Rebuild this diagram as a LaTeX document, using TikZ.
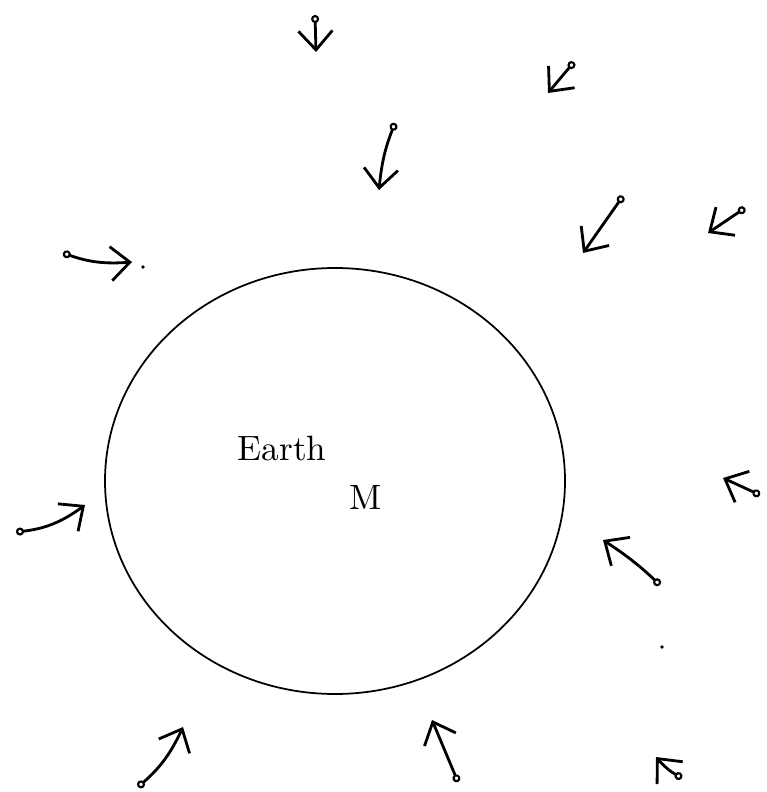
\documentclass[tikz,border=0pt]{standalone}
\usetikzlibrary{arrows.meta}

\begin{document}
\begin{tikzpicture}[x=0.01cm,y=-0.01cm,
  pull/.style={line width=0.8pt,
    {Circle[open,length=0.8mm,width=0.8mm,line width=0.6pt]}-{Straight Barb[length=1.9mm,width=3.4mm,line width=0.8pt]}}]
  \def\rx{230}
  \def\ry{213}
  \useasboundingbox (0,0) rectangle (766,792);

  % the earth
  \coordinate (centre) at (335,481);
  \draw[line width=0.5pt] (centre) ellipse ({\rx} and {\ry});
  \node (earth) at (282,448) {Earth};
  \node (mass) at (366,497) {M};

  % test particles falling in
  \foreach \sx/\sy/\tx/\ty/\b[count=\i] in {315/15/316/52/0, 574/62/548/93/0,
      395/123/379/190/-8, 623/196/583/253/0, 745/208/708/233/0,
      63/253/132/262/-12, 16/532/85/505/-15, 760/495/723/478/0,
      660/585/603/540/-5, 138/787/183/727/-12, 458/782/432/720/0,
      682/778/656/757/10} {
    \coordinate (s\i) at (\sx,\sy);
    \coordinate (t\i) at (\tx,\ty);
    \draw[pull] (s\i) to[bend left=\b] (t\i);
  }

  % stray marks
  \coordinate (dota) at (143,267);
  \coordinate (dotb) at (662,647);
  \fill (dota) circle (1.8);
  \fill (dotb) circle (1.8);
\end{tikzpicture}
\end{document}
